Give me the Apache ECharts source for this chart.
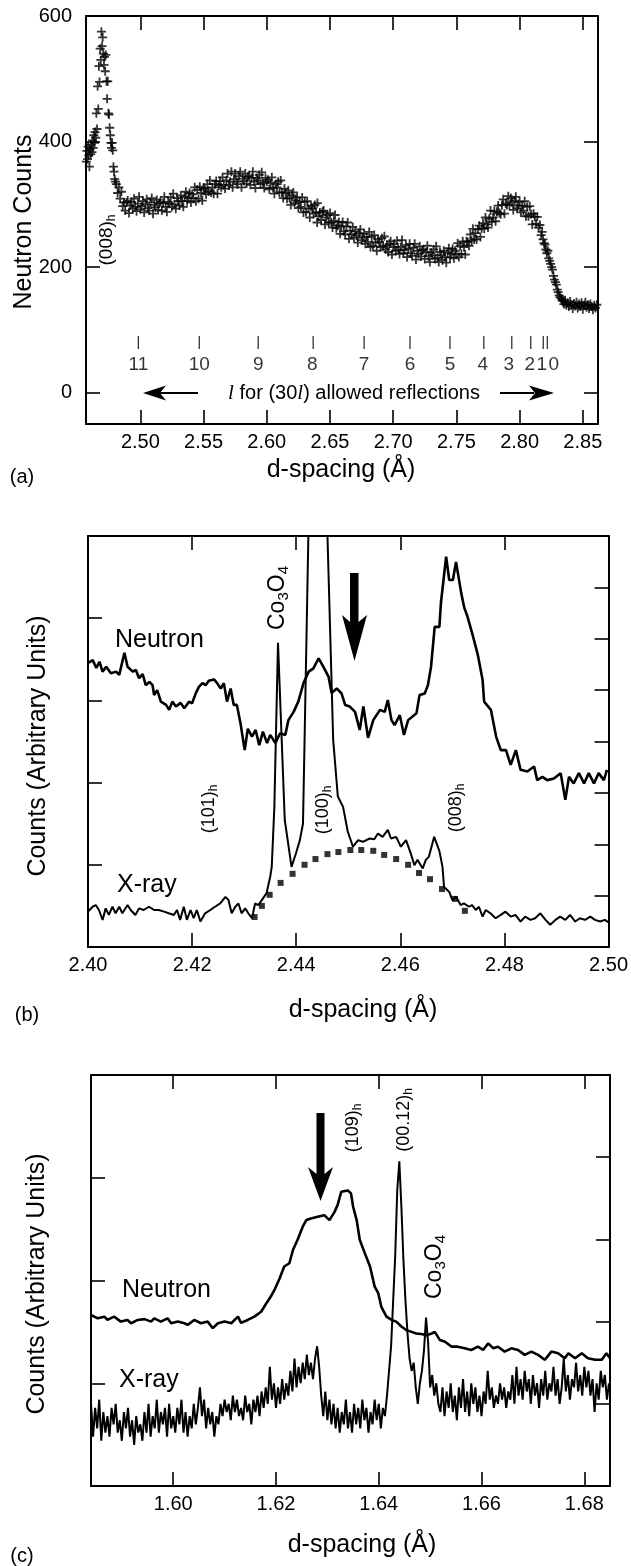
<!DOCTYPE html>
<html><head><meta charset="utf-8">
<script src="https://cdn.jsdelivr.net/npm/echarts@6/dist/echarts.min.js"></script>
<style>html,body{margin:0;padding:0;background:#fff}#c{width:631px;height:1566px}</style>
</head><body><div id="c"></div><script>
// ---------------- Panel (a) data ----------------
const A_XTICKS = [2.50, 2.55, 2.60, 2.65, 2.70, 2.75, 2.80, 2.85];
const A_YTICKS = [0, 200, 400, 600];
const L_VALUES = ['11','10','9','8','7','6','5','4','3','2','1','0'];
const L_DSPACING = [2.4984, 2.5466, 2.5932, 2.6367, 2.6770, 2.7133, 2.7449, 2.7717, 2.7938, 2.8088, 2.8187, 2.8219];
const A_COUNTS = [
[2.4572,368],[2.4577,385],[2.4582,372],[2.4587,392],[2.4592,378],[2.4597,360],[2.4602,388],[2.4607,380],[2.4612,395],[2.4617,383],[2.4622,402],[2.4627,390],[2.4632,410],[2.4637,398],[2.4642,415],[2.4647,406],
[2.4652,445],[2.4657,420],[2.4662,488],[2.4667,452],[2.4672,520],[2.4677,495],[2.4682,548],[2.4687,530],[2.4692,575],[2.4697,552],[2.4702,566],[2.4707,540],[2.4712,522],[2.4717,535],[2.4722,512],[2.4727,538],[2.4732,496],[2.4737,468],[2.4742,496],[2.4747,445],[2.4752,443],[2.4757,422],[2.4762,410],[2.4767,398],[2.4772,390],[2.4777,398],[2.4782,386],[2.4787,360],[2.4792,352],[2.4797,340],[2.4803,336],
[2.481,332],[2.482,318],[2.483,327],[2.484,309],[2.485,320],[2.486,297],[2.487,303],[2.488,290],[2.489,303],[2.490,306],[2.491,286],[2.492,298],[2.493,304],[2.494,293],[2.495,309],[2.496,296],[2.497,289],[2.498,301],[2.499,312],[2.500,292],
[2.501,297],[2.502,305],[2.503,287],[2.504,300],[2.505,308],[2.506,294],[2.507,290],[2.508,303],[2.509,310],[2.510,285],[2.511,299],[2.512,295],[2.513,307],[2.514,291],[2.515,302],[2.516,304],[2.517,290],[2.518,302],[2.519,312],[2.520,296],
[2.521,288],[2.522,304],[2.523,301],[2.524,311],[2.525,296],[2.526,317],[2.527,300],[2.528,293],[2.529,310],[2.530,305],[2.531,298],[2.532,314],[2.533,305],[2.534,296],[2.535,312],[2.536,320],[2.537,305],[2.538,310],[2.539,318],[2.540,303],
[2.541,316],[2.542,310],[2.543,327],[2.544,305],[2.545,323],[2.546,309],[2.547,328],[2.548,318],[2.549,306],[2.550,326],[2.551,324],[2.552,316],[2.553,332],[2.554,321],[2.555,338],[2.556,319],[2.557,327],[2.558,317],[2.559,332],[2.560,337],
[2.561,317],[2.562,330],[2.563,337],[2.564,327],[2.565,343],[2.566,331],[2.567,325],[2.568,338],[2.569,349],[2.570,330],[2.571,336],[2.572,352],[2.573,327],[2.574,340],[2.575,349],[2.576,336],[2.577,332],[2.578,345],[2.579,352],[2.580,327],
[2.581,341],[2.582,337],[2.583,349],[2.584,333],[2.585,344],[2.586,345],[2.587,331],[2.588,342],[2.589,352],[2.590,336],[2.591,326],[2.592,342],[2.593,338],[2.594,347],[2.595,332],[2.596,351],[2.597,334],[2.598,326],[2.599,342],[2.600,336],
[2.601,339],[2.602,324],[2.603,334],[2.604,343],[2.605,326],[2.606,317],[2.607,332],[2.608,327],[2.609,336],[2.610,319],[2.611,338],[2.612,319],[2.613,310],[2.614,325],[2.615,318],[2.616,309],[2.617,322],[2.618,310],[2.619,299],[2.620,314],
[2.621,319],[2.622,302],[2.623,306],[2.624,311],[2.625,294],[2.626,304],[2.627,296],[2.628,311],[2.629,287],[2.630,304],[2.631,288],[2.632,305],[2.633,293],[2.634,279],[2.635,297],[2.636,294],[2.637,285],[2.638,299],[2.639,287],[2.6398,271],[2.640,302],
[2.641,281],[2.642,287],[2.643,275],[2.644,288],[2.645,290],[2.646,268],[2.647,279],[2.648,283],[2.649,271],[2.650,286],[2.651,271],[2.652,263],[2.653,274],[2.654,283],[2.655,262],[2.656,266],[2.657,272],[2.658,253],[2.659,265],[2.660,272],
[2.661,257],[2.662,252],[2.663,265],[2.664,271],[2.665,245],[2.666,258],[2.667,252],[2.668,264],[2.669,247],[2.670,257],[2.671,250],[2.672,239],[2.673,254],[2.674,260],[2.675,243],[2.676,247],[2.677,253],[2.678,237],[2.679,248],[2.680,240],
[2.681,256],[2.682,232],[2.683,248],[2.684,234],[2.685,251],[2.686,239],[2.687,226],[2.688,244],[2.689,240],[2.690,232],[2.691,246],[2.692,233],[2.693,249],[2.694,228],[2.695,235],[2.696,224],[2.697,237],[2.698,241],[2.699,220],[2.700,232],
[2.701,237],[2.702,226],[2.703,242],[2.704,228],[2.705,221],[2.706,232],[2.707,243],[2.708,222],[2.709,227],[2.710,235],[2.711,216],[2.712,229],[2.713,237],[2.714,222],[2.715,218],[2.716,231],[2.717,237],[2.718,212],[2.719,226],[2.720,221],
[2.721,233],[2.722,217],[2.723,227],[2.724,228],[2.725,213],[2.726,224],[2.727,234],[2.728,217],[2.729,208],[2.730,223],[2.731,219],[2.732,228],[2.733,213],[2.734,233],[2.735,215],[2.736,208],[2.737,224],[2.738,219],[2.739,211],[2.740,226],
[2.741,216],[2.742,207],[2.743,223],[2.744,230],[2.745,215],[2.746,221],[2.747,229],[2.748,214],[2.749,226],[2.750,220],[2.751,238],[2.752,216],[2.753,234],[2.754,221],[2.755,241],[2.756,232],[2.757,220],[2.758,241],[2.759,240],[2.760,234],
[2.761,252],[2.762,242],[2.763,261],[2.764,244],[2.765,254],[2.766,244],[2.767,260],[2.768,266],[2.769,248],[2.770,262],[2.771,270],[2.772,261],[2.773,279],[2.774,268],[2.775,263],[2.776,277],[2.777,290],[2.778,272],[2.779,279],[2.780,289],
[2.781,273],[2.782,288],[2.783,298],[2.784,286],[2.785,284],[2.786,299],[2.787,308],[2.788,285],[2.789,301],[2.790,299],[2.791,313],[2.792,299],[2.793,310],[2.794,303],[2.795,291],[2.796,306],[2.797,312],[2.798,294],[2.799,298],[2.800,304],
[2.801,287],[2.802,298],[2.803,290],[2.804,305],[2.805,281],[2.806,296],[2.807,281],[2.808,297],[2.809,284],[2.810,268],[2.811,285],[2.812,280],[2.813,269],[2.814,280],[2.815,263],[2.816,267],[2.817,251],[2.8178,256],[2.8185,244],[2.8193,238],
[2.8200,236],[2.8208,228],[2.8215,222],[2.8223,226],[2.8230,214],[2.8238,210],[2.8245,205],[2.8253,200],[2.8260,196],[2.8268,186],[2.8275,180],[2.8283,176],[2.8290,172],[2.8298,164],[2.8305,160],[2.8313,155],[2.8320,152],[2.8328,150],[2.8335,148],
[2.834,146],[2.835,141],[2.836,147],[2.837,139],[2.838,143],[2.839,137],[2.840,145],[2.841,140],[2.842,134],[2.843,142],[2.844,138],[2.845,144],[2.846,135],[2.847,141],[2.848,137],[2.849,143],[2.850,133],[2.851,139],[2.852,144],[2.853,136],[2.854,140],[2.855,134],[2.856,141],[2.857,137],[2.858,132],[2.859,139],[2.860,135],[2.861,140]
];
const L_ROW = 80;                 // y level (counts) of the l-marker row
const L_LABEL_DX = [0,0,0,-1,0,0,0,-1,-3,-1,-1.5,6.5];

// ---------------- Panel (b) data ----------------
const B_NEUTRON = [
[2.4000,69.1],[2.4009,69.8],[2.4016,67.9],[2.4022,69.4],[2.4028,67.0],[2.4035,68.2],[2.4044,66.6],[2.4054,67.0],[2.4060,66.2],[2.4070,71.6],[2.4076,68.2],[2.4086,67.0],[2.4092,67.4],[2.4098,65.4],[2.4105,66.4],[2.4111,63.7],[2.4118,64.5],[2.4124,63.7],[2.4127,61.3],[2.4133,62.5],[2.4140,59.7],[2.4150,58.9],[2.4156,57.7],[2.4162,59.7],[2.4169,58.5],[2.4178,59.4],[2.4185,58.1],[2.4194,59.7],[2.4200,59.3],[2.4207,61.7],[2.4213,63.3],[2.4220,64.2],[2.4226,63.7],[2.4232,64.8],[2.4242,65.1],[2.4248,64.2],[2.4255,62.9],[2.4261,64.2],[2.4267,59.7],[2.4274,62.9],[2.4280,58.9],[2.4286,58.9],[2.4293,54.4],[2.4301,47.9],[2.4307,53.1],[2.4315,51.2],[2.4322,52.8],[2.4329,49.1],[2.4336,52.4],[2.4344,49.6],[2.4350,51.6],[2.4360,49.6],[2.4369,52.0],[2.4379,51.6],[2.4385,55.2],[2.4395,57.2],[2.4404,59.7],[2.4414,64.2],[2.4424,67.0],[2.4433,67.8],[2.4443,70.2],[2.4452,68.2],[2.4462,65.8],[2.4468,61.8],[2.4478,62.9],[2.4487,61.7],[2.4494,58.9],[2.4503,58.5],[2.4513,57.2],[2.4522,52.8],[2.4529,58.5],[2.4538,50.9],[2.4548,55.2],[2.4561,57.7],[2.4570,57.2],[2.4576,60.1],[2.4583,55.2],[2.4589,54.0],[2.4599,56.4],[2.4607,51.6],[2.4615,55.2],[2.4631,56.9],[2.4637,61.3],[2.4647,61.7],[2.4653,63.7],[2.4659,68.2],[2.4666,77.9],[2.4675,77.9],[2.4678,83.7],[2.4688,95.0],[2.4694,89.3],[2.4701,89.3],[2.4707,93.7],[2.4717,86.1],[2.4723,82.5],[2.4729,80.4],[2.4739,75.9],[2.4749,71.0],[2.4758,65.0],[2.4761,59.7],[2.4774,57.7],[2.4784,51.2],[2.4793,47.9],[2.4803,47.9],[2.4812,44.3],[2.4822,47.9],[2.4831,43.1],[2.4844,42.7],[2.4857,43.9],[2.4863,40.6],[2.4873,41.4],[2.4882,40.6],[2.4895,41.0],[2.4908,42.3],[2.4917,35.8],[2.4924,41.4],[2.4933,39.8],[2.4943,42.3],[2.4953,39.8],[2.4962,42.3],[2.4972,39.8],[2.4981,42.3],[2.4991,40.6],[2.4997,43.1]
];
const B_XRAY = [
[2.4000,8.6],[2.4009,9.8],[2.4015,10.2],[2.4021,9.0],[2.4028,6.6],[2.4034,9.4],[2.4040,7.8],[2.4047,9.8],[2.4053,8.2],[2.4060,9.8],[2.4066,8.2],[2.4076,10.2],[2.4082,9.0],[2.4091,7.8],[2.4098,9.4],[2.4107,9.0],[2.4117,9.8],[2.4127,9.0],[2.4136,9.0],[2.4146,8.6],[2.4155,8.2],[2.4165,7.8],[2.4171,9.0],[2.4177,6.6],[2.4184,9.8],[2.4190,6.6],[2.4197,9.0],[2.4203,7.0],[2.4209,9.0],[2.4216,6.2],[2.4225,8.2],[2.4235,9.0],[2.4244,9.8],[2.4254,10.6],[2.4264,12.2],[2.4270,11.4],[2.4276,8.2],[2.4283,9.8],[2.4289,10.6],[2.4295,8.2],[2.4302,9.4],[2.4308,8.2],[2.4315,7.0],[2.4321,10.6],[2.4327,10.2],[2.4334,11.4],[2.4343,13.1],[2.4350,17.1],[2.4353,19.5],[2.4358,34.1],[2.4365,74.0],[2.4378,30.9],[2.4391,19.5],[2.4400,23.0],[2.4407,26.0],[2.4413,30.0],[2.4416,50.0],[2.4438,200],[2.4471,50.4],[2.4480,36.6],[2.4490,34.1],[2.4499,28.1],[2.4509,24.4],[2.4519,26.0],[2.4528,25.6],[2.4541,26.4],[2.4550,26.2],[2.4557,27.6],[2.4566,26.8],[2.4576,28.5],[2.4582,26.4],[2.4592,26.8],[2.4601,24.4],[2.4611,26.0],[2.4620,22.8],[2.4627,19.9],[2.4633,21.2],[2.4643,19.1],[2.4649,21.2],[2.4655,22.0],[2.4665,26.8],[2.4675,23.4],[2.4681,19.5],[2.4684,14.6],[2.4694,13.4],[2.4700,11.4],[2.4707,12.2],[2.4716,10.2],[2.4722,10.6],[2.4732,9.8],[2.4738,10.2],[2.4745,9.0],[2.4751,9.8],[2.4758,7.4],[2.4764,9.0],[2.4773,8.2],[2.4783,7.0],[2.4793,7.8],[2.4802,8.6],[2.4812,7.4],[2.4821,7.8],[2.4831,6.2],[2.4840,7.4],[2.4850,6.6],[2.4859,7.0],[2.4869,8.2],[2.4879,6.6],[2.4888,5.4],[2.4898,6.6],[2.4907,7.4],[2.4917,6.6],[2.4926,7.8],[2.4936,6.2],[2.4945,7.0],[2.4955,6.6],[2.4965,7.4],[2.4974,6.6],[2.4984,6.2],[2.4993,6.6],[2.5000,6.0]
];
const B_XRAY_BKG = [
[2.4320,7.3],[2.4334,10.0],[2.4349,12.7],[2.4370,15.6],[2.4393,17.8],[2.4416,20.0],[2.4437,21.4],[2.4460,22.6],[2.4481,23.1],[2.4504,23.6],[2.4525,23.6],[2.4548,23.4],[2.4569,22.4],[2.4592,21.4],[2.4615,20.0],[2.4636,18.0],[2.4657,16.5],[2.4680,14.1],[2.4705,11.7],[2.4724,8.8]
];

// ---------------- Panel (c) data ----------------
const C_XTICKS = [1.60, 1.62, 1.64, 1.66, 1.68];
const C_NEUTRON = [
[1.5840,41.6],[1.5853,40.8],[1.5866,41.2],[1.5872,40.4],[1.5885,41.2],[1.5898,40.0],[1.5911,40.4],[1.5918,39.6],[1.5931,40.4],[1.5944,40.6],[1.5957,40.0],[1.5963,40.8],[1.5976,40.0],[1.5989,40.8],[1.5996,39.6],[1.6009,40.0],[1.6022,39.6],[1.6028,39.2],[1.6041,40.4],[1.6054,39.6],[1.6067,40.0],[1.6077,38.4],[1.6087,39.6],[1.6100,40.0],[1.6113,39.6],[1.6126,41.2],[1.6132,39.7],[1.6145,40.4],[1.6158,41.2],[1.6171,42.4],[1.6181,44.4],[1.6190,46.1],[1.6197,47.7],[1.6207,50.5],[1.6216,53.4],[1.6226,54.2],[1.6233,57.4],[1.6242,59.9],[1.6252,63.1],[1.6259,64.7],[1.6268,65.1],[1.6281,65.5],[1.6294,65.9],[1.6304,64.7],[1.6314,66.7],[1.6320,68.4],[1.6327,71.6],[1.6340,71.9],[1.6346,71.2],[1.6350,68.0],[1.6357,64.7],[1.6363,59.9],[1.6373,56.6],[1.6383,53.4],[1.6392,48.5],[1.6399,46.9],[1.6405,43.6],[1.6415,41.2],[1.6425,40.4],[1.6434,40.0],[1.6444,38.8],[1.6454,37.9],[1.6464,37.5],[1.6473,37.1],[1.6483,37.0],[1.6493,36.7],[1.6503,37.1],[1.6509,37.5],[1.6519,35.5],[1.6529,35.1],[1.6542,33.9],[1.6554,33.9],[1.6567,33.5],[1.6580,33.1],[1.6593,33.9],[1.6603,33.1],[1.6613,34.7],[1.6623,33.5],[1.6632,33.9],[1.6645,32.7],[1.6658,33.5],[1.6671,33.1],[1.6684,31.9],[1.6697,32.7],[1.6710,31.9],[1.6723,30.7],[1.6736,32.7],[1.6749,32.3],[1.6762,31.1],[1.6769,32.3],[1.6782,31.1],[1.6795,32.3],[1.6807,31.1],[1.6821,30.7],[1.6834,30.7],[1.6843,32.3],[1.6850,31.1]
];
const C_XRAY = [
[1.5840,20],[1.5844,12],[1.5848,19],[1.5852,14],[1.5856,21],[1.5860,11],[1.5864,18],[1.5868,13],[1.5872,17],[1.5876,12],
[1.5880,19],[1.5884,15],[1.5888,20],[1.5892,13],[1.5896,16],[1.5900,11],[1.5904,18],[1.5908,14],[1.5912,19],[1.5916,12],
[1.5920,16],[1.5924,10],[1.5928,17],[1.5932,13],[1.5936,15],[1.5940,11],[1.5944,18],[1.5948,13],[1.5952,20],[1.5956,12],
[1.5960,17],[1.5964,14],[1.5968,21],[1.5972,13],[1.5976,18],[1.5980,15],[1.5984,19],[1.5988,12],[1.5992,20],[1.5996,14],
[1.6000,17],[1.6004,13],[1.6008,19],[1.6012,15],[1.6016,21],[1.6020,13],[1.6024,18],[1.6028,12],[1.6032,17],[1.6036,14],
[1.6040,20],[1.6044,15],[1.6048,19],[1.6052,24],[1.6056,17],[1.6060,21],[1.6064,14],[1.6068,19],[1.6072,15],[1.6076,18],
[1.6080,12],[1.6084,17],[1.6088,15],[1.6092,20],[1.6096,17],[1.6100,21],[1.6104,18],[1.6108,20],[1.6112,16],[1.6116,22],
[1.6120,18],[1.6124,21],[1.6128,17],[1.6132,19],[1.6136,16],[1.6140,22],[1.6144,18],[1.6148,20],[1.6152,15],[1.6156,21],
[1.6160,18],[1.6164,22],[1.6168,17],[1.6172,23],[1.6176,19],[1.6180,24],[1.6184,20],[1.6188,29],[1.6192,21],[1.6196,25],
[1.6200,19],[1.6204,24],[1.6208,20],[1.6212,26],[1.6216,21],[1.6220,25],[1.6224,22],[1.6228,28],[1.6232,23],[1.6236,31],
[1.6240,24],[1.6244,29],[1.6248,25],[1.6252,30],[1.6256,26],[1.6260,32],[1.6264,27],[1.6268,30],[1.6272,26],[1.6276,31],
[1.6280,34],[1.6284,29],[1.6288,22],[1.6292,17],[1.6296,23],[1.6300,16],[1.6304,21],[1.6308,15],[1.6312,20],[1.6316,14],
[1.6320,19],[1.6324,13],[1.6328,18],[1.6332,15],[1.6336,21],[1.6340,14],[1.6344,18],[1.6348,13],[1.6352,20],[1.6356,15],
[1.6360,19],[1.6364,14],[1.6368,21],[1.6372,16],[1.6376,19],[1.6380,13],[1.6384,18],[1.6388,15],[1.6392,21],[1.6396,16],
[1.6400,20],[1.6404,14],[1.6408,19],[1.6412,17],[1.6416,22],[1.6420,28],[1.6424,34],[1.6428,45],[1.6432,56],[1.6436,72],
[1.6440,79],[1.6444,68],[1.6448,55],[1.6452,45],[1.6456,37],[1.6460,31],[1.6464,28],[1.6468,30],[1.6472,24],[1.6476,20],
[1.6480,25],[1.6484,28],[1.6488,33],[1.6492,41],[1.6496,35],[1.6500,24],[1.6504,27],[1.6508,22],[1.6512,25],[1.6516,20],
[1.6520,18],[1.6524,24],[1.6528,17],[1.6532,23],[1.6536,19],[1.6540,25],[1.6544,18],[1.6548,22],[1.6552,16],[1.6556,24],
[1.6560,19],[1.6564,26],[1.6568,18],[1.6572,23],[1.6576,17],[1.6580,25],[1.6584,20],[1.6588,24],[1.6592,18],[1.6596,22],
[1.6600,17],[1.6604,23],[1.6608,20],[1.6612,28],[1.6616,21],[1.6620,24],[1.6624,19],[1.6628,22],[1.6632,20],[1.6636,25],
[1.6640,21],[1.6644,24],[1.6648,19],[1.6652,23],[1.6656,21],[1.6660,27],[1.6664,20],[1.6668,29],[1.6672,22],[1.6676,26],
[1.6680,21],[1.6684,28],[1.6688,23],[1.6692,26],[1.6696,20],[1.6700,27],[1.6704,22],[1.6708,25],[1.6712,19],[1.6716,26],
[1.6720,22],[1.6724,28],[1.6728,21],[1.6732,25],[1.6736,23],[1.6740,29],[1.6744,22],[1.6748,26],[1.6752,20],[1.6756,24],
[1.6760,31],[1.6764,23],[1.6768,27],[1.6772,21],[1.6776,26],[1.6780,24],[1.6784,30],[1.6788,23],[1.6792,27],[1.6796,22],
[1.6800,29],[1.6804,24],[1.6808,28],[1.6812,22],[1.6816,26],[1.6820,18],[1.6824,25],[1.6828,21],[1.6832,28],[1.6836,24],
[1.6840,27],[1.6844,21],[1.6848,25]
];

// ---------------- rendering ----------------
const FONT = '"Liberation Sans", Arial, Helvetica, sans-serif';
const BLACK = '#000';
const CROSS = 'path://M4,0H6V4H10V6H6V10H4V6H0V4H4Z';

function axLine() { return {show: true, onZero: false, lineStyle: {color: BLACK, width: 2}}; }
function tick(custom) { const t = {show: true, inside: true, length: 14, lineStyle: {color: BLACK, width: 1.6}}; if (custom) t.customValues = custom; return t; }

function xPair(gi, min, max, custom, interval) {
  const base = {type: 'value', gridIndex: gi, min: min, max: max, splitLine: {show: false}, axisLine: axLine()};
  if (interval) base.interval = interval;
  const lab = {show: true, color: BLACK, fontSize: 20, fontFamily: FONT, margin: 8, showMinLabel: true, showMaxLabel: true,
    formatter: v => Number(v).toFixed(2)};
  if (custom) lab.customValues = custom;
  return [
    Object.assign({}, base, {position: 'bottom', axisTick: tick(custom), axisLabel: lab}),
    Object.assign({}, base, {position: 'top', axisTick: tick(custom), axisLabel: {show: false}})
  ];
}
function yAx(gi, pos, min, max, custom, interval, labels) {
  const a = {type: 'value', gridIndex: gi, position: pos, min: min, max: max, splitLine: {show: false}, axisLine: axLine(), axisTick: tick(custom)};
  if (interval) a.interval = interval;
  if (labels) {
    a.axisLabel = {show: true, color: BLACK, fontSize: 20, fontFamily: FONT, margin: 14, showMinLabel: true, showMaxLabel: true};
    if (custom) a.axisLabel.customValues = custom;
  } else a.axisLabel = {show: false};
  return a;
}

function txt(x, y, text, size, opts) {
  return Object.assign({type: 'text', x: x, y: y, silent: true, style: Object.assign({text: text, fill: BLACK, fontSize: size, fontFamily: FONT, align: 'center', verticalAlign: 'middle'}, (opts && opts.style) || {})}, opts && opts.rot ? {rotation: Math.PI / 2} : {});
}
function hkl(x, y, main, sub, size) {
  return {type: 'text', x: x, y: y, rotation: Math.PI / 2, silent: true,
    style: {text: '{m|' + main + '}{s|' + sub + '}', align: 'center', verticalAlign: 'middle',
      rich: {m: {fontSize: size, fontFamily: FONT, fill: BLACK}, s: {fontSize: Math.round(size * 0.65), fontFamily: FONT, fill: BLACK, padding: [Math.round(size * 0.5), 0, 0, 0]}}}};
}
function coO(x, y) {
  return {type: 'text', x: x, y: y, rotation: Math.PI / 2, silent: true,
    style: {text: '{m|Co}{s|3}{m|O}{s|4}', align: 'center', verticalAlign: 'middle',
      rich: {m: {fontSize: 23, fontFamily: FONT, fill: BLACK}, s: {fontSize: 15, fontFamily: FONT, fill: BLACK, padding: [11, 0, 0, 0]}}}};
}
function poly(points) { return {type: 'polygon', silent: true, shape: {points: points}, style: {fill: BLACK}}; }
function seg(x1, y1, x2, y2, w) { return {type: 'line', silent: true, shape: {x1: x1, y1: y1, x2: x2, y2: y2}, style: {stroke: BLACK, lineWidth: w}}; }

const chart = echarts.init(document.getElementById('c'), null, {renderer: 'canvas'});
const xa = xPair(0, 2.457, 2.862, A_XTICKS).concat(xPair(1, 2.40, 2.50, null, 0.02)).concat(xPair(2, 1.584, 1.685, C_XTICKS));
const ya = [
  yAx(0, 'left', -50, 600, A_YTICKS, null, true),
  yAx(0, 'right', -50, 600, [0, 200, 400], null, false),
  yAx(1, 'left', 0, 100, null, 20, false),
  yAx(1, 'right', 0, 80, null, 10, false),
  yAx(2, 'left', 0, 100, null, 25, false),
  yAx(2, 'right', 0, 100, null, 20, false)
];

const option = {
  animation: false,
  backgroundColor: '#fff',
  grid: [
    {left: 86, top: 16, width: 512, height: 408},
    {left: 88, top: 536, width: 523, height: 411},
    {left: 91, top: 1075, width: 519, height: 411}
  ],
  xAxis: xa,
  yAxis: ya,
  series: [
    {type: 'scatter', xAxisIndex: 0, yAxisIndex: 0, data: A_COUNTS, symbol: CROSS, symbolSize: 9, itemStyle: {color: BLACK}, clip: false, silent: true},
    {type: 'scatter', xAxisIndex: 0, yAxisIndex: 0, silent: true, symbol: 'rect', symbolSize: [1.3, 13], itemStyle: {color: BLACK},
      data: L_DSPACING.map((d, i) => ({value: [d, L_ROW], label: {offset: [L_LABEL_DX[i], 0]}})),
      label: {show: true, position: 'bottom', distance: 6, color: BLACK, fontSize: 19, fontFamily: FONT, formatter: p => L_VALUES[p.dataIndex]}},
    {type: 'line', xAxisIndex: 2, yAxisIndex: 2, data: B_NEUTRON, symbol: 'none', lineStyle: {color: BLACK, width: 2.6}, clip: true, silent: true},
    {type: 'line', xAxisIndex: 2, yAxisIndex: 2, data: B_XRAY, symbol: 'none', lineStyle: {color: BLACK, width: 2}, clip: true, silent: true},
    {type: 'scatter', xAxisIndex: 2, yAxisIndex: 2, data: B_XRAY_BKG, symbol: 'rect', symbolSize: 6, itemStyle: {color: BLACK}, silent: true},
    {type: 'line', xAxisIndex: 4, yAxisIndex: 4, data: C_NEUTRON, symbol: 'none', lineStyle: {color: BLACK, width: 2.6}, clip: true, silent: true},
    {type: 'line', xAxisIndex: 4, yAxisIndex: 4, data: C_XRAY, symbol: 'none', lineStyle: {color: BLACK, width: 2}, clip: true, silent: true}
  ],
  graphic: [
    // panel (a)
    txt(24, 222, 'Neutron Counts', 25, {rot: true}),
    txt(341, 470, 'd-spacing (Å)', 25),
    txt(22, 477, '(a)', 20),
    hkl(107, 240, '(008)', 'h', 19),
    {type: 'text', x: 354, y: 393, silent: true, style: {text: '{i|l} for (30{i|l}) allowed reflections', align: 'center', verticalAlign: 'middle', fill: BLACK, fontSize: 20, fontFamily: FONT,
      rich: {i: {fontStyle: 'italic', fontFamily: '"Liberation Serif", serif', fontSize: 21, fill: BLACK}}}},
    seg(160, 393, 198, 393, 2.2), poly([[143, 393], [166, 385.5], [160, 393], [166, 400.5]]),
    seg(500, 393, 534, 393, 2.2), poly([[554, 393], [529, 385.5], [535, 393], [529, 400.5]]),
    // panel (b)
    txt(38, 746, 'Counts (Arbitrary Units)', 25, {rot: true}),
    txt(363, 1010, 'd-spacing (Å)', 25),
    txt(27, 1015, '(b)', 20),
    txt(115, 640, 'Neutron', 25, {style: {align: 'left'}}),
    txt(117, 885, 'X-ray', 25, {style: {align: 'left'}}),
    coO(278, 598),
    hkl(209, 809, '(101)', 'h', 18),
    hkl(323, 810, '(100)', 'h', 18),
    hkl(456, 808, '(008)', 'h', 18),
    poly([[350, 573], [358.5, 573], [358.5, 622], [367, 615], [354.5, 661], [342, 615], [350, 622]]),
    // panel (c)
    txt(37, 1284, 'Counts (Arbitrary Units)', 25, {rot: true}),
    txt(362, 1545, 'd-spacing (Å)', 25),
    txt(22, 1556, '(c)', 20),
    txt(122, 1290, 'Neutron', 25, {style: {align: 'left'}}),
    txt(119, 1380, 'X-ray', 25, {style: {align: 'left'}}),
    hkl(353, 1128, '(109)', 'h', 18),
    hkl(404, 1120, '(00.12)', 'h', 18),
    coO(435, 1267),
    poly([[316.5, 1113], [324.5, 1113], [324.5, 1174], [333, 1167], [320.5, 1201], [308, 1167], [316.5, 1174]])
  ]
};
chart.setOption(option);
</script></body></html>
